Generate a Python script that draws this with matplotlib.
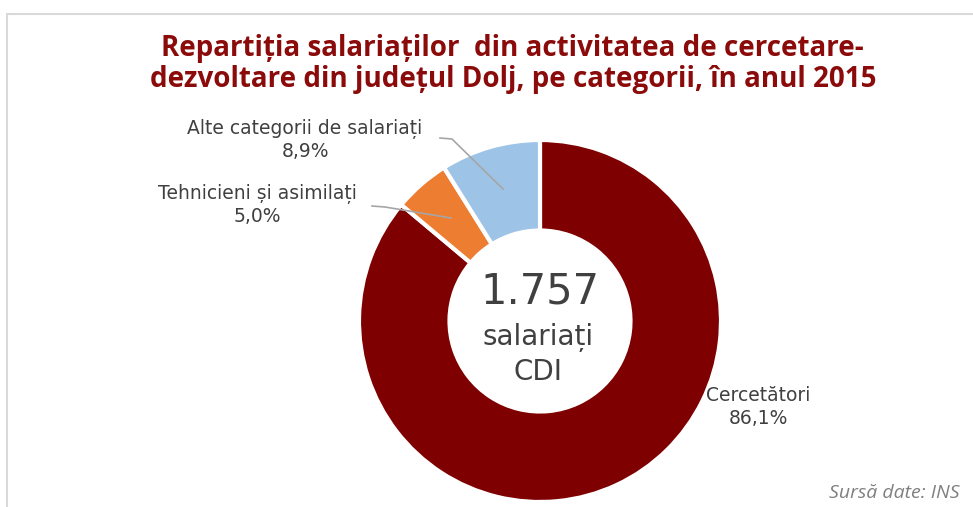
import matplotlib.pyplot as plt
from matplotlib.patches import Rectangle

# salariati CDI din cercetare-dezvoltare, Dolj 2015
categorii = ["Cercetători", "Tehnicieni și asimilați", "Alte categorii de salariați"]
procente = [86.1, 5.0, 8.9]
etichete = ["86,1%", "5,0%", "8,9%"]
total = "1.757"
culori = ["#7F0000", "#ED7D31", "#9DC3E6"]

W, H = 973, 507
fig = plt.figure(figsize=(W / 100, H / 100), dpi=100)

# cadru gri deschis
fig.patches.append(Rectangle((7 / W, -0.1), 1.1, (H - 14) / H + 0.1,
                             transform=fig.transFigure, fill=False,
                             edgecolor="#D9D9D9", linewidth=1.5))

# axa acopera toata figura, 1 unitate = raza gogosii (181 px)
cx, cy, r = 540, 321, 181
ax = fig.add_axes([0, 0, 1, 1])

ax.pie(procente, colors=culori, startangle=90, counterclock=False,
       radius=1.0, wedgeprops=dict(width=0.5, edgecolor="white", linewidth=3))
ax.set_aspect("auto")
ax.set_xlim(-cx / r, (W - cx) / r)
ax.set_ylim(-(H - cy) / r, cy / r)
ax.axis("off")


def px(x, y):
    return ((x - cx) / r, (cy - y) / r)


fig.text(0.527, 1 - 64 / H, "Repartiția salariaților  din activitatea de cercetare-\n"
         "dezvoltare din județul Dolj, pe categorii, în anul 2015",
         ha="center", va="center", color="#8B0A0A", fontsize=20,
         fontweight="bold", family="Open Sans", linespacing=1.1)

gri = "#404040"
lbl = dict(ha="center", va="center", color=gri, fontsize=13.5, family="DejaVu Sans",
           linespacing=1.25)
ax.text(*px(305, 140), "Alte categorii de salariați\n" + etichete[2], **lbl)
ax.text(*px(257, 205), "Tehnicieni și asimilați\n" + etichete[1], **lbl)
ax.text(*px(758, 407), "Cercetători\n" + etichete[0], **lbl)

# linii de legatura
lc = dict(color="#A6A6A6", linewidth=1.2)
ax.plot(*zip(px(440, 138), px(452, 139), px(503, 189)), **lc)
ax.plot(*zip(px(372, 206), px(385, 207), px(451, 218)), **lc)

ax.text(*px(540, 292), total, ha="center", va="center", color=gri, fontsize=30,
        family="DejaVu Sans")
ax.text(*px(538, 337), "salariați", ha="center", va="center", color=gri, fontsize=20,
        family="DejaVu Sans")
ax.text(*px(538, 372), "CDI", ha="center", va="center", color=gri, fontsize=20,
        family="DejaVu Sans")

fig.text(960 / W, 1 - 484 / H, "Sursă date: INS", ha="right", va="top",
         color="#7F7F7F", fontsize=14, style="italic", family="Open Sans")

fig.savefig("out.png", dpi=100)
